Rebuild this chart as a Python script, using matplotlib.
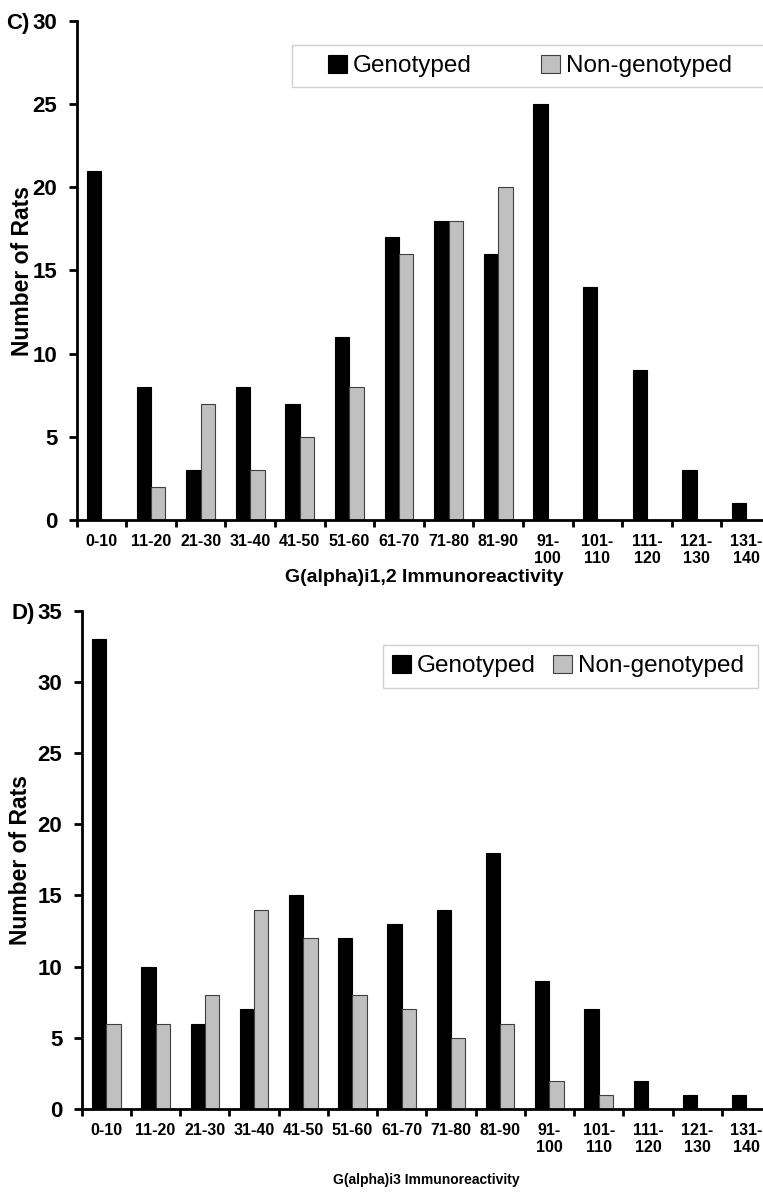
import matplotlib
matplotlib.use("Agg")
import matplotlib.pyplot as plt
import numpy as np
from matplotlib.patches import Rectangle

plt.rcParams['font.family'] = ['Liberation Sans', 'DejaVu Sans']

# данные
bins = ['0-10', '11-20', '21-30', '31-40', '41-50', '51-60', '61-70', '71-80',
        '81-90', '91-\n100', '101-\n110', '111-\n120', '121-\n130', '131-\n140']
c_geno = [21, 8, 3, 8, 7, 11, 17, 18, 16, 25, 14, 9, 3, 1]
c_nongeno = [0, 2, 7, 3, 5, 8, 16, 18, 20, 0, 0, 0, 0, 0]
d_geno = [33, 10, 6, 7, 15, 12, 13, 14, 18, 9, 7, 2, 1, 1]
d_nongeno = [6, 6, 8, 14, 12, 8, 7, 5, 6, 2, 1, 0, 0, 0]

W, H = 763, 1192
fig = plt.figure(figsize=(W / 100, H / 100), dpi=100)


def px(x0, y0, x1, y1):
    # пиксели -> доли фигуры
    return [x0 / W, 1 - y1 / H, (x1 - x0) / W, (y1 - y0) / H]


def panel(rect, geno, nongeno, ymax, letter, let_x, xlabel, xlsize, xl_y, leg_box, leg_anchor, colsp):
    ax = fig.add_axes(rect)
    x = np.arange(len(bins))
    w = 0.29
    ax.bar(x - w / 2, geno, w, color='black', edgecolor='black', linewidth=0.8, label='Genotyped')
    ax.bar(x + w / 2, nongeno, w, color='#c0c0c0', edgecolor='#404040', linewidth=0.8, label='Non-genotyped')
    ax.set_xlim(-0.5, len(bins) - 0.5)
    ax.set_ylim(0, ymax)
    ax.set_yticks(np.arange(0, ymax + 1, 5))
    ax.set_xticks(x)
    ax.set_xticklabels(bins, fontsize=11.5, fontweight='bold', linespacing=1.2)
    ax.set_xticks(np.arange(-0.5, len(bins), 1), minor=True)
    ax.tick_params(axis='x', which='major', length=0, pad=10)
    ax.tick_params(axis='x', which='minor', length=5, width=2, direction='out')
    ax.tick_params(axis='y', length=6, width=2, pad=8, labelsize=16)
    for t in ax.get_yticklabels():
        t.set_fontweight('bold')
    for s in ['top', 'right']:
        ax.spines[s].set_visible(False)
    for s in ['left', 'bottom']:
        ax.spines[s].set_linewidth(2)
    ax.set_ylabel('Number of Rats', fontsize=16.5, fontweight='bold')
    ax.set_xlabel(xlabel, fontsize=xlsize, fontweight='bold')
    ax.xaxis.set_label_coords(0.5, xl_y)
    # буква панели
    ax.text(let_x, 1.0, letter, transform=ax.transAxes, ha='right', va='center_baseline',
            fontsize=16, fontweight='bold')
    # рамка легенды
    fig.patches.append(Rectangle((leg_box[0] / W, 1 - leg_box[3] / H),
                                 (leg_box[2] - leg_box[0]) / W, (leg_box[3] - leg_box[1]) / H,
                                 transform=fig.transFigure, facecolor='white',
                                 edgecolor='#d0d0d0', linewidth=1, zorder=5))
    leg = fig.legend(*ax.get_legend_handles_labels(), loc='center left',
                     bbox_to_anchor=(leg_anchor[0] / W, 1 - leg_anchor[1] / H),
                     ncol=2, frameon=False, fontsize=17.5, borderpad=0, borderaxespad=0,
                     handlelength=0.78, handleheight=0.78, handletextpad=0.25,
                     columnspacing=colsp)
    leg.set_zorder(6)
    return ax


ax1 = panel(px(76.7, 21, 771, 520), c_geno, c_nongeno, 30, 'C)', -0.068,
            'G(alpha)i1,2 Immunoreactivity', 14, -0.098,
            (292, 45, 800, 87), (328, 66), 2.85)
ax1.yaxis.set_label_coords(-0.062, 0.5)

ax2 = panel(px(81.7, 610.7, 771, 1109), d_geno, d_nongeno, 35, 'D)', -0.068,
            'G(alpha)i3 Immunoreactivity', 10, -0.128,
            (383, 645, 758, 688), (392, 666), 0.7)
ax2.yaxis.set_label_coords(-0.0725, 0.5)

fig.savefig('out.png', dpi=100)
